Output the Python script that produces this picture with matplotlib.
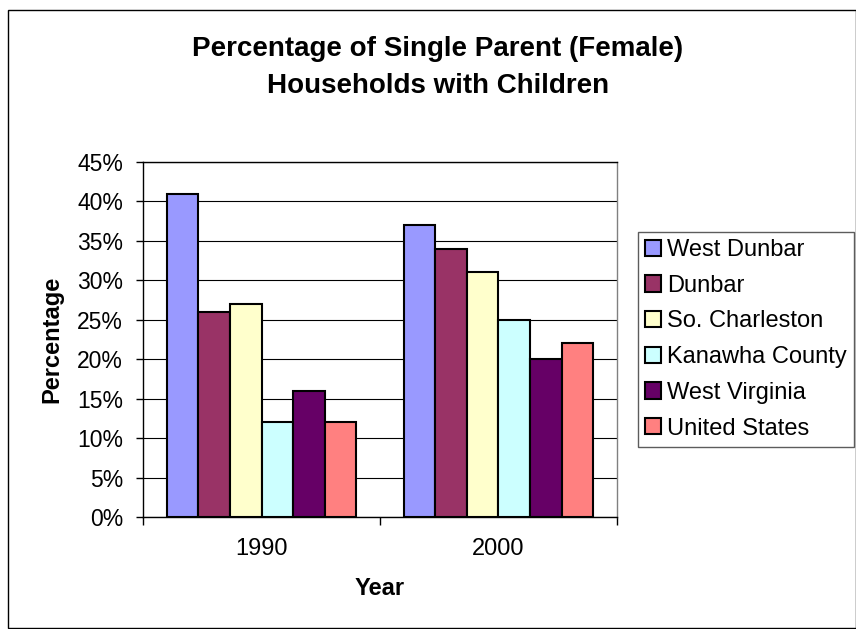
import matplotlib
matplotlib.use('Agg')
import matplotlib.pyplot as plt
import numpy as np
from matplotlib.ticker import FixedLocator, FuncFormatter

plt.rcParams['font.family'] = ['Liberation Sans', 'DejaVu Sans']

years = ['1990', '2000']
places = ['West Dunbar', 'Dunbar', 'So. Charleston', 'Kanawha County',
          'West Virginia', 'United States']
values = {
    'West Dunbar': [41, 37],
    'Dunbar': [26, 34],
    'So. Charleston': [27, 31],
    'Kanawha County': [12, 25],
    'West Virginia': [16, 20],
    'United States': [12, 22],
}
colors = ['#9999FF', '#993366', '#FFFFCC', '#CCFFFF', '#660066', '#FF8080']
title_lines = ['Percentage of Single Parent (Female)', 'Households with Children']

W, H = 856, 629
fig = plt.figure(figsize=(W / 100, H / 100), dpi=100)
ax = fig.add_axes([143/W, 1 - 517/H, (617-143)/W, (517-162)/H])

# Excel style: 6 bars per group, gap width 150%
w = 1 / 7.5
x = np.arange(len(years))
for i, p in enumerate(places):
    ax.bar(x + (i - 2.5) * w, values[p], w, color=colors[i],
           edgecolor='black', linewidth=1.5, label=p, zorder=3)

ax.set_xlim(-0.5, 1.5)
ax.set_ylim(0, 45)
ax.set_yticks(np.arange(0, 46, 5))
ax.yaxis.set_major_formatter(FuncFormatter(lambda v, _: '%d%%' % v))
ax.yaxis.grid(True, color='black', linewidth=0.8, zorder=0)

ax.xaxis.set_major_locator(FixedLocator([-0.5, 0.5, 1.5]))
ax.xaxis.set_major_formatter(FuncFormatter(lambda v, _: ''))
ax.xaxis.set_minor_locator(FixedLocator(x))
ax.set_xticklabels(years, minor=True)
ax.tick_params(axis='x', which='minor', length=0, pad=14.8, labelsize=17)
ax.tick_params(axis='x', which='major', length=5.5, direction='out', width=1)
ax.tick_params(axis='y', length=5, direction='out', width=1, labelsize=16.5, pad=9.4)

ax.spines['top'].set_color('black')
ax.spines['right'].set_color('#808080')
for s in ax.spines.values():
    s.set_linewidth(1)

ax.set_xlabel('Year', fontsize=17, fontweight='bold', labelpad=12.5)
ax.set_ylabel('Percentage', fontsize=17, fontweight='bold', labelpad=9.8)

fig.text(438/W, 1 - 56/H, title_lines[0], fontsize=20, fontweight='bold',
         ha='center', va='baseline')
fig.text(438/W, 1 - 93/H, title_lines[1], fontsize=20, fontweight='bold',
         ha='center', va='baseline')

leg = ax.legend(loc='upper left', bbox_to_anchor=(638/W, 1 - 232/H),
                bbox_transform=fig.transFigure, fontsize=17, frameon=True,
                fancybox=False, edgecolor='#333333', handlelength=0.68,
                handleheight=0.68, handletextpad=0.25, labelspacing=0.58,
                borderpad=0.3, borderaxespad=0)
leg.get_frame().set_linewidth(1)

fig.patches.append(plt.Rectangle((8/W, 1/H), 1 - 8/W, 1 - 11/H, fill=False,
                                 edgecolor='black', linewidth=1,
                                 transform=fig.transFigure))

fig.savefig('out.png', dpi=100)
